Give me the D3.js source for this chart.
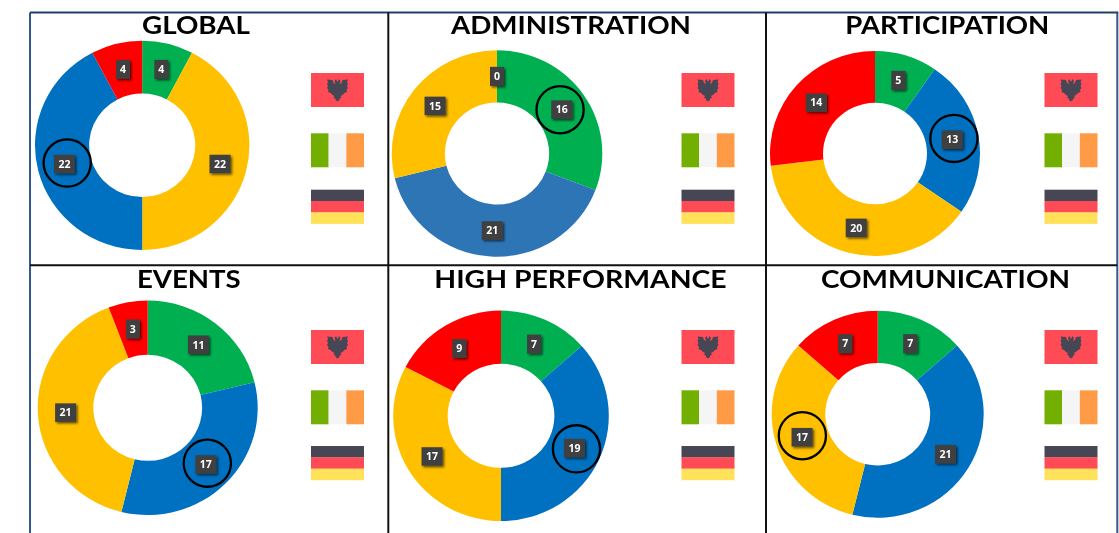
<!DOCTYPE html>
<html>
<head>
<meta charset="utf-8">
<script src="https://cdn.jsdelivr.net/npm/d3@7"></script>
<style>
html,body{margin:0;padding:0;background:#fff;overflow:hidden}
svg{display:block;filter:blur(.45px)}
</style>
</head>
<body>
<div id="chart"></div>
<script>
// ---- data ----
const titles = ["GLOBAL","ADMINISTRATION","PARTICIPATION","EVENTS","HIGH PERFORMANCE","COMMUNICATION"];
const sliceNames = ["green","blue","yellow","red"];
const globalValues = [4,22,22,4];            // green, yellow, blue, red
const administrationValues = [16,21,15,0];   // green, blue, yellow, red
const participationValues = [5,13,20,14];
const eventsValues = [11,17,21,3];
const highPerformanceValues = [7,19,17,9];
const communicationValues = [7,21,17,7];
const panelValues = [globalValues,administrationValues,participationValues,eventsValues,highPerformanceValues,communicationValues];
const green="#00b050", blue="#0070c0", yellow="#ffc000", red="#ff0000", steel="#2e75b6";
const panelColors = [
  [green,yellow,blue,red],
  [green,steel,yellow,red],
  [green,blue,yellow,red],
  [green,blue,yellow,red],
  [green,blue,yellow,red],
  [green,blue,yellow,red]
];
const highlighted = [2,0,1,1,1,2];  // slice circled in each panel

// ---- layout ----
const W=1119,H=533;
const centers=[[142.2,145.3],[497,153.5],[875,153.5],[147.7,407.8],[501,415.8],[877.7,414.2]];
const radii=[[107.2,104.6],[105.3,103.2],[105,102.5],[110,107.2],[107.8,105.2],[106,103.5]];
const holeRatio=.495;
const titleX=[196,571,947.3,188.8,580.5,945.5];
const titleBase=[34.3,34.3,34.3,288,288,287.5];
const titleWidth=[108,240,204,103.7,292.4,249];
const circleShift=[[2.8,-1],[-1.7,0],[1.7,-1.3],[1.5,-1.3],[2,.8],[.3,-1.5]];
const flagX=[311,681.5,1044.5,311,681.5,1044.5];
const flagY=[[73,133.3,189.7],[73,133.3,189.7],[73,133.3,189.7],[330,390.3,446],[330,390.3,446],[330,390.3,446]];
const flagW=53, flagH=34;

const svg=d3.select("#chart").append("svg").attr("width",W).attr("height",H);
const defs=svg.append("defs");
const f=defs.append("filter").attr("id","shadow").attr("x","-40%").attr("y","-40%").attr("width","200%").attr("height","200%");
f.append("feDropShadow").attr("dx",1.6).attr("dy",1.6).attr("stdDeviation",1).attr("flood-color","#000").attr("flood-opacity",.6);

// frame
const frame=svg.append("g");
const blueLine="#34598a";
[[30,12.5,30,533,blueLine,2],[1117.3,12.5,1117.3,533,blueLine,2],[30,12.5,1118.3,12.5,"#1f3f68",2],
 [388.3,12.5,388.3,533,"#111",2],[766,12.5,766,533,"#111",2],[30,265.3,1117.3,265.3,"#111",2]]
 .forEach(l=>frame.append("line").attr("x1",l[0]).attr("y1",l[1]).attr("x2",l[2]).attr("y2",l[3]).attr("stroke",l[4]).attr("stroke-width",l[5]));

const pie=d3.pie().sort(null).value(d=>d);
const eagle="M-1.5,-11 L-3,-9 L-2,-6 L-4,-7 L-5,-10 L-10.5,-10.5 L-9.5,-8 L-10.5,-6 L-9.5,-4 L-10.5,-2 L-9,0 L-9.5,2 L-7,3 L-5,5 L-3,6 L-4,8 L-2,8.5 L-2,10 L0,11.5 L2,10 L2,8.5 L4,8 L3,6 L5,5 L7,3 L9.5,2 L9,0 L10.5,-2 L9.5,-4 L10.5,-6 L9.5,-8 L10.5,-10.5 L5,-10 L4,-7 L2,-6 L3,-9 L1.5,-11 L0,-8 Z";

function drawFlags(g,x,ys){
  const a=g.append("g");
  a.append("rect").attr("x",x).attr("y",ys[0]).attr("width",flagW).attr("height",flagH).attr("fill","#ff4b55");
  a.append("path").attr("d",eagle).attr("fill","#464655").attr("transform",`translate(${x+flagW/2},${ys[0]+flagH/2})`);
  const xs=d3.scaleBand().domain([0,1,2]).range([x,x+flagW]);
  ["#73af00","#f5f5f5","#ff9b46"].forEach((c,i)=>g.append("rect").attr("x",xs(i)).attr("y",ys[1]).attr("width",xs.bandwidth()).attr("height",flagH).attr("fill",c));
  const yb=d3.scaleBand().domain([0,1,2]).range([ys[2],ys[2]+flagH]);
  ["#464655","#ff4b55","#ffe15a"].forEach((c,i)=>g.append("rect").attr("x",x).attr("y",yb(i)).attr("width",flagW).attr("height",yb.bandwidth()+.2).attr("fill",c));
}

titles.forEach((title,p)=>{
  const [cx,cy]=centers[p],[rx,ry]=radii[p];
  const g=svg.append("g");
  const sx=rx/100,sy=ry/100;
  const arc=d3.arc().innerRadius(100*holeRatio).outerRadius(100);
  const arcs=pie(panelValues[p]);

  g.append("g").attr("transform",`translate(${cx},${cy}) scale(${sx},${sy})`)
   .selectAll("path").data(arcs).join("path")
   .attr("d",arc).attr("fill",(d,i)=>panelColors[p][i]);

  g.append("text").attr("x",titleX[p]).attr("y",titleBase[p]).attr("text-anchor","middle")
   .attr("font-family","Lato").attr("font-weight",700).attr("font-size",25.5)
   .attr("fill","#000")
   .attr("textLength",titleWidth[p]).attr("lengthAdjust","spacingAndGlyphs").text(title);

  arcs.forEach((d,i)=>{
    const c=arc.centroid(d);
    const lx=cx+c[0]*sx, ly=cy+c[1]*sy;
    const txt=String(d.value);
    const w=txt.length>1?21:14, h=txt.length>1?18.5:19;
    g.append("rect").attr("x",lx-w/2).attr("y",ly-h/2).attr("width",w).attr("height",h)
     .attr("fill","#404040").attr("filter","url(#shadow)");
    g.append("text").attr("x",lx).attr("y",ly+3.8).attr("text-anchor","middle")
     .attr("font-family","Open Sans").attr("font-weight",700).attr("font-size",10.5)
     .attr("fill","#fff").text(txt);
    if(i===highlighted[p]){
      g.append("circle").attr("cx",lx+circleShift[p][0]).attr("cy",ly+circleShift[p][1]).attr("r",23.6)
       .attr("fill","none").attr("stroke","#000").attr("stroke-width",2.3);
    }
  });
  drawFlags(g,flagX[p],flagY[p]);
});
</script>
</body>
</html>
